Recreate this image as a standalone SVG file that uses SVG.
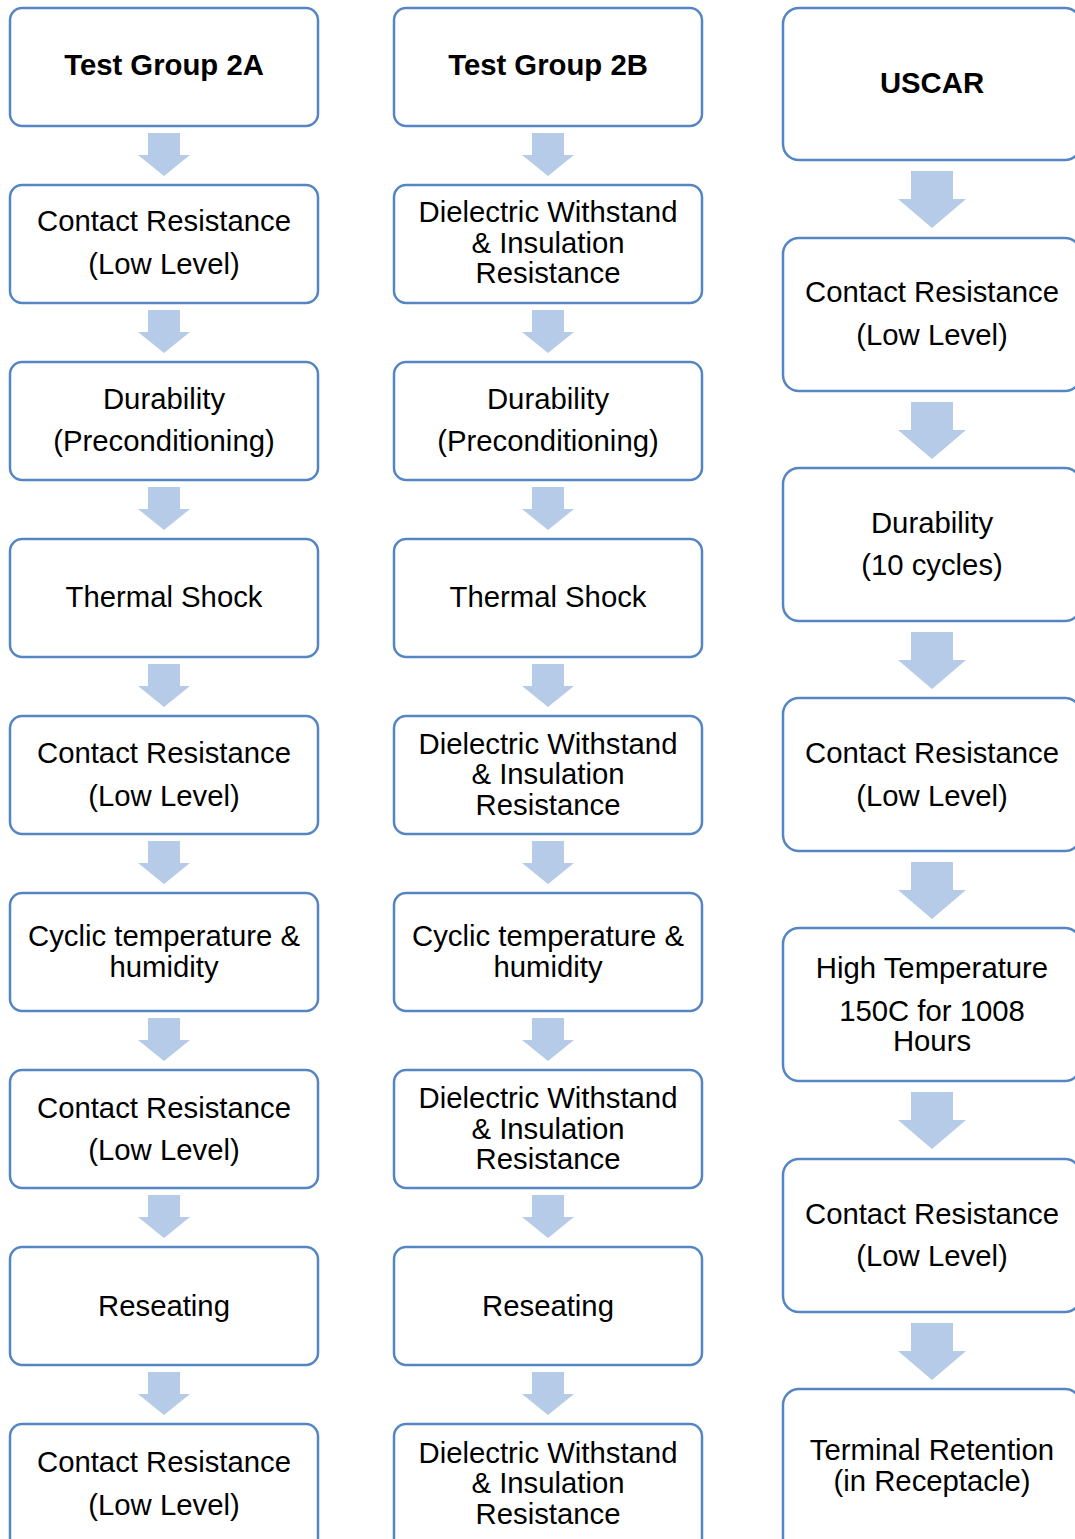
<svg xmlns="http://www.w3.org/2000/svg" xmlns:xlink="http://www.w3.org/1999/xlink" width="1075" height="1539" viewBox="0 0 1075 1539">
<style>
.box{fill:#ffffff;stroke:#5586c3;stroke-width:2.5}
.t{font-family:"Liberation Sans",Arial,sans-serif;font-size:29.3px;fill:#000;text-anchor:middle}
.b{font-weight:bold}
.arr{fill:#b6cbe8}
</style>
<defs>
<path id="a1" d="M-16,0 H16 V22 H26 L0,43 L-26,22 H-16 Z"/>
<path id="a3" d="M-21,0 H21 V28 H34 L0,57 L-34,28 H-21 Z"/>
</defs>
<rect width="1075" height="1539" fill="#ffffff"/>
<g id="connectors" class="arr">
<use xlink:href="#a1" x="164" y="133"/>
<use xlink:href="#a1" x="164" y="310"/>
<use xlink:href="#a1" x="164" y="487"/>
<use xlink:href="#a1" x="164" y="664"/>
<use xlink:href="#a1" x="164" y="841"/>
<use xlink:href="#a1" x="164" y="1018"/>
<use xlink:href="#a1" x="164" y="1195"/>
<use xlink:href="#a1" x="164" y="1372"/>
<use xlink:href="#a1" x="548" y="133"/>
<use xlink:href="#a1" x="548" y="310"/>
<use xlink:href="#a1" x="548" y="487"/>
<use xlink:href="#a1" x="548" y="664"/>
<use xlink:href="#a1" x="548" y="841"/>
<use xlink:href="#a1" x="548" y="1018"/>
<use xlink:href="#a1" x="548" y="1195"/>
<use xlink:href="#a1" x="548" y="1372"/>
<use xlink:href="#a3" x="932" y="171"/>
<use xlink:href="#a3" x="932" y="402"/>
<use xlink:href="#a3" x="932" y="632"/>
<use xlink:href="#a3" x="932" y="862"/>
<use xlink:href="#a3" x="932" y="1092"/>
<use xlink:href="#a3" x="932" y="1323"/>
</g>
<!-- Column A -->
<g id="a-1"><rect class="box" x="10" y="8" width="308" height="118" rx="12"/><text class="t b" x="164" y="75">Test Group 2A</text></g>
<g id="a-2"><rect class="box" x="10" y="185" width="308" height="118" rx="12"/><text class="t" x="164" y="231">Contact Resistance</text><text class="t" x="164" y="274">(Low Level)</text></g>
<g id="a-3"><rect class="box" x="10" y="362" width="308" height="118" rx="12"/><text class="t" x="164" y="409">Durability</text><text class="t" x="164" y="451">(Preconditioning)</text></g>
<g id="a-4"><rect class="box" x="10" y="539" width="308" height="118" rx="12"/><text class="t" x="164" y="607">Thermal Shock</text></g>
<g id="a-5"><rect class="box" x="10" y="716" width="308" height="118" rx="12"/><text class="t" x="164" y="763">Contact Resistance</text><text class="t" x="164" y="806">(Low Level)</text></g>
<g id="a-6"><rect class="box" x="10" y="893" width="308" height="118" rx="12"/><text class="t" x="164" y="946">Cyclic temperature &amp;</text><text class="t" x="164" y="977">humidity</text></g>
<g id="a-7"><rect class="box" x="10" y="1070" width="308" height="118" rx="12"/><text class="t" x="164" y="1118">Contact Resistance</text><text class="t" x="164" y="1160">(Low Level)</text></g>
<g id="a-8"><rect class="box" x="10" y="1247" width="308" height="118" rx="12"/><text class="t" x="164" y="1316">Reseating</text></g>
<g id="a-9"><rect class="box" x="10" y="1424" width="308" height="130" rx="12"/><text class="t" x="164" y="1472">Contact Resistance</text><text class="t" x="164" y="1515">(Low Level)</text></g>
<!-- Column B -->
<g id="b-1"><rect class="box" x="394" y="8" width="308" height="118" rx="12"/><text class="t b" x="548" y="75">Test Group 2B</text></g>
<g id="b-2"><rect class="box" x="394" y="185" width="308" height="118" rx="12"/><text class="t" x="548" y="222">Dielectric Withstand</text><text class="t" x="548" y="253">&amp; Insulation</text><text class="t" x="548" y="283">Resistance</text></g>
<g id="b-3"><rect class="box" x="394" y="362" width="308" height="118" rx="12"/><text class="t" x="548" y="409">Durability</text><text class="t" x="548" y="451">(Preconditioning)</text></g>
<g id="b-4"><rect class="box" x="394" y="539" width="308" height="118" rx="12"/><text class="t" x="548" y="607">Thermal Shock</text></g>
<g id="b-5"><rect class="box" x="394" y="716" width="308" height="118" rx="12"/><text class="t" x="548" y="754">Dielectric Withstand</text><text class="t" x="548" y="784">&amp; Insulation</text><text class="t" x="548" y="815">Resistance</text></g>
<g id="b-6"><rect class="box" x="394" y="893" width="308" height="118" rx="12"/><text class="t" x="548" y="946">Cyclic temperature &amp;</text><text class="t" x="548" y="977">humidity</text></g>
<g id="b-7"><rect class="box" x="394" y="1070" width="308" height="118" rx="12"/><text class="t" x="548" y="1108">Dielectric Withstand</text><text class="t" x="548" y="1139">&amp; Insulation</text><text class="t" x="548" y="1169">Resistance</text></g>
<g id="b-8"><rect class="box" x="394" y="1247" width="308" height="118" rx="12"/><text class="t" x="548" y="1316">Reseating</text></g>
<g id="b-9"><rect class="box" x="394" y="1424" width="308" height="130" rx="12"/><text class="t" x="548" y="1463">Dielectric Withstand</text><text class="t" x="548" y="1493">&amp; Insulation</text><text class="t" x="548" y="1524">Resistance</text></g>
<!-- Column USCAR -->
<g id="c-1"><rect class="box" x="783" y="8" width="298" height="152" rx="16"/><text class="t b" x="932" y="93">USCAR</text></g>
<g id="c-2"><rect class="box" x="783" y="238" width="298" height="153" rx="16"/><text class="t" x="932" y="302">Contact Resistance</text><text class="t" x="932" y="345">(Low Level)</text></g>
<g id="c-3"><rect class="box" x="783" y="468" width="298" height="153" rx="16"/><text class="t" x="932" y="533">Durability</text><text class="t" x="932" y="575">(10 cycles)</text></g>
<g id="c-4"><rect class="box" x="783" y="698" width="298" height="153" rx="16"/><text class="t" x="932" y="763">Contact Resistance</text><text class="t" x="932" y="806">(Low Level)</text></g>
<g id="c-5"><rect class="box" x="783" y="928" width="298" height="153" rx="16"/><text class="t" x="932" y="978">High Temperature</text><text class="t" x="932" y="1021">150C for 1008</text><text class="t" x="932" y="1051">Hours</text></g>
<g id="c-6"><rect class="box" x="783" y="1159" width="298" height="153" rx="16"/><text class="t" x="932" y="1224">Contact Resistance</text><text class="t" x="932" y="1266">(Low Level)</text></g>
<g id="c-7"><rect class="box" x="783" y="1389" width="298" height="170" rx="16"/><text class="t" x="932" y="1460">Terminal Retention</text><text class="t" x="932" y="1491">(in Receptacle)</text></g>
</svg>
